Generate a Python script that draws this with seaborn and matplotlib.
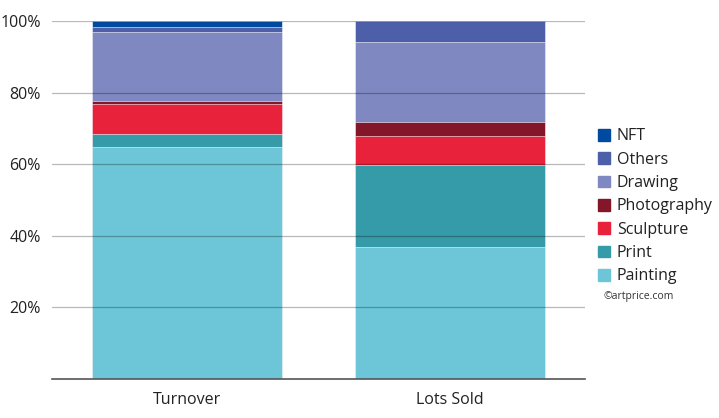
import numpy as np
import pandas as pd
import matplotlib
matplotlib.use("Agg")
import matplotlib.pyplot as plt
import matplotlib.patches as mpatches
import seaborn as sns

# Parts (%) par segment
categorias = ["Turnover", "Lots Sold"]
segmentos = ["Painting", "Print", "Sculpture", "Photography", "Drawing", "Others", "NFT"]
painting = [64.9, 37.0]
print_ = [3.6, 22.7]
sculpture = [8.2, 8.2]
photography = [1.0, 3.8]
drawing = [19.3, 22.5]
others = [1.2, 5.8]
nft = [1.8, 0.0]
colores = ["#6cc6d8", "#359ba8", "#e8223a", "#831628", "#8088c2", "#4c5fa8", "#004a9f"]
yticks = [20, 40, 60, 80, 100]

sns.set_theme(style="white")
plt.rcParams['font.family'] = ['Open Sans', 'DejaVu Sans']

df = pd.DataFrame({
    "Painting": painting, "Print": print_, "Sculpture": sculpture,
    "Photography": photography, "Drawing": drawing, "Others": others, "NFT": nft,
}, index=categorias)
cum = df[segmentos].cumsum(axis=1)

fig = plt.figure(figsize=(7.19, 4.18), dpi=100)
ax = fig.add_axes([52/719, 39/418, 533/719, 358/418])

# on dessine du plus haut au plus bas pour empiler
for seg, col in reversed(list(zip(segmentos, colores))):
    sns.barplot(x=categorias, y=cum[seg].values, color=col, width=0.72,
                edgecolor="white", linewidth=0.4, saturation=1, ax=ax)

ax.set_ylim(0, 100)
ax.set_xlim(-0.513, 1.513)
ax.set_yticks(yticks)
ax.set_yticklabels([f"{v}%" for v in yticks])
ax.yaxis.grid(True, color="black", alpha=0.28, linewidth=0.9)
ax.set_axisbelow(False)
ax.tick_params(axis="y", length=0, pad=8, labelsize=11.5, labelcolor="#222222")
ax.tick_params(axis="x", length=0, pad=9, labelsize=11.5, labelcolor="#222222")
for s in ["top", "right", "left"]:
    ax.spines[s].set_visible(False)
ax.spines["bottom"].set_color("#555555")
ax.spines["bottom"].set_linewidth(1.2)
ax.set_xlabel("")
ax.set_ylabel("")

handles = [mpatches.Patch(color=c, label=s) for s, c in zip(segmentos, colores)][::-1]
leg = fig.legend(handles=handles, loc="upper left", bbox_to_anchor=(592/719, 1 - 122/418),
                 frameon=False, fontsize=11.5, handlelength=0.75, handleheight=0.75,
                 handletextpad=0.4, labelspacing=0.46, borderaxespad=0)
for t in leg.get_texts():
    t.set_color("#222222")
fig.text(603/719, 1 - 296/418, "©artprice.com", fontsize=7.5, color="#333333", va="center")

fig.savefig("out.png", dpi=100)
